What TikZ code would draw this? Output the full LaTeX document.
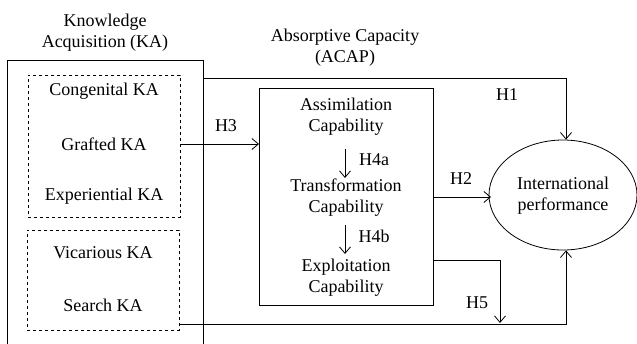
\documentclass[tikz,border=0pt]{standalone}
\usepackage{fontspec}
\setmainfont{Liberation Serif}
\usetikzlibrary{arrows.meta,shapes.geometric}
\begin{document}
\begin{tikzpicture}[x=1pt,y=-1pt,
  txt/.style={font=\rmfamily\fontsize{18}{21}\selectfont, align=center, inner sep=0pt},
  lbl/.style={font=\rmfamily\fontsize{18}{21}\selectfont, inner sep=0pt},
  solidbox/.style={draw, line width=0.8pt, inner sep=0pt},
  dbox/.style={draw, dashed, line width=0.7pt, inner sep=0pt},
  conn/.style={line width=0.8pt},
  arr/.style={conn, -{Straight Barb[length=6.5pt,width=11pt]}}]
\useasboundingbox (0,0) rectangle (637,343);
\clip (0,0) rectangle (637,343);
% titles
\node[txt] (kat) at (105,33) {Knowledge\\Acquisition (KA)};
\node[txt] (acapt) at (345,48) {Absorptive Capacity\\(ACAP)};
% outer KA box (open at bottom, runs off the picture)
\node[solidbox, minimum width=196pt, minimum height=300pt, anchor=north west] (ka) at (7,60) {};
% dashed boxes
\node[dbox, minimum width=152pt, minimum height=142pt, anchor=north west] (d1) at (28,75) {};
\node[dbox, minimum width=152pt, minimum height=100pt, anchor=north west] (d2) at (27,230) {};
\node[txt] (cong) at (104,91) {Congenital KA};
\node[txt] (graf) at (104,144) {Grafted KA};
\node[txt] (expk) at (104,196) {Experiential KA};
\node[txt] (vica) at (103,253) {Vicarious KA};
\node[txt] (srch) at (103,305) {Search KA};
% ACAP box
\node[solidbox, minimum width=174pt, minimum height=217pt, anchor=north west] (acap) at (259,88) {};
\node[txt] (assim) at (346,117) {Assimilation\\Capability};
\node[txt] (trans) at (346,198) {Transformation\\Capability};
\node[txt] (expl) at (346,278) {Exploitation\\Capability};
% ellipse
\node[draw, ellipse, line width=0.8pt, minimum width=148pt, minimum height=110pt, inner sep=0pt] (ip) at (563,195) {};
\node[txt] (iptxt) at (563,196) {International\\performance};
% named points
\coordinate (h1s) at (203,78);
\coordinate (h1c) at (566,78);
\coordinate (h3s) at (180,144);
\coordinate (h3e) at (259,144);
\coordinate (h2s) at (433,197);
\coordinate (h2e) at (491,197);
\coordinate (h5s) at (433,260);
\coordinate (h5c) at (500,260);
\coordinate (h5e) at (500,323);
\coordinate (sks) at (179,324);
\coordinate (skc) at (566,324);
\coordinate (a1s) at (345,149);
\coordinate (a1e) at (345,178);
\coordinate (a2s) at (345,225);
\coordinate (a2e) at (345,254);
% connectors
\draw[arr] (h1s) -- (h1c) -- (ip.north -| h1c);
\draw[arr] (h3s) -- (h3e);
\draw[arr] (h2s) -- (h2e);
\draw[arr] (h5s) -- (h5c) -- (h5e);
\draw[arr] (sks) -- (skc) -- (ip.south -| skc);
\draw[arr] (a1s) -- (a1e);
\draw[arr] (a2s) -- (a2e);
% labels
\node[lbl] (l1) at (507,95) {H1};
\node[lbl] (l3) at (226,126) {H3};
\node[lbl] (l2) at (461,179) {H2};
\node[lbl] (l4a) at (374,160) {H4a};
\node[lbl] (l4b) at (374,236) {H4b};
\node[lbl] (l5) at (477,303) {H5};
\end{tikzpicture}
\end{document}
